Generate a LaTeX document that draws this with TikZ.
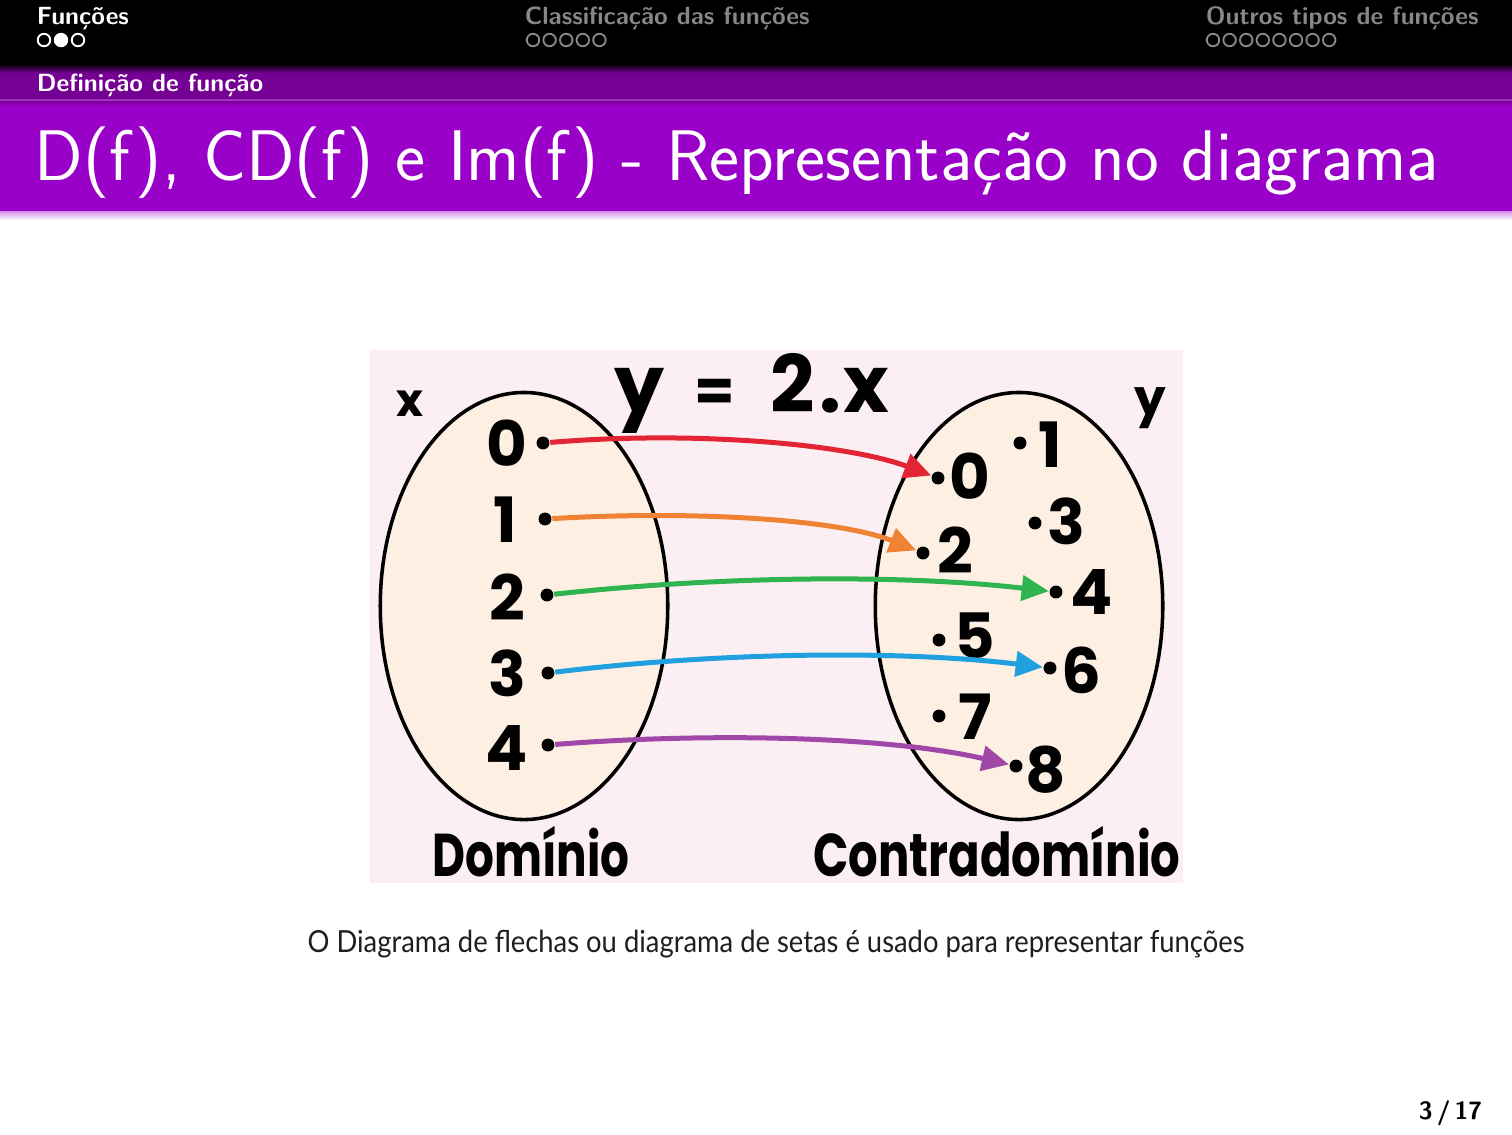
\documentclass[tikz,border=0pt]{standalone}
\usepackage{fontspec}
\newfontfamily\comic{Poppins}
\newfontfamily\capfont{Lato}
\usetikzlibrary{arrows.meta,shapes.geometric}
\definecolor{subpurple}{RGB}{116,0,148}
\definecolor{titlepurple}{RGB}{153,0,200}
\definecolor{navgray}{RGB}{135,135,135}
\definecolor{pinkbg}{RGB}{252,239,243}
\definecolor{beige}{RGB}{253,240,226}
\definecolor{ared}{RGB}{226,36,52}
\definecolor{aorange}{RGB}{240,130,52}
\definecolor{agreen}{RGB}{48,180,80}
\definecolor{ablue}{RGB}{32,160,222}
\definecolor{apurple}{RGB}{160,72,168}
\definecolor{captext}{RGB}{30,30,30}
\tikzset{
  navtext/.style={anchor=base west,inner sep=0pt,font=\sffamily\bfseries\fontsize{5.97}{7}\selectfont},
  navdot/.style={circle,draw=#1,line width=0.45pt,minimum size=3pt,inner sep=0pt},
  setbox/.style={ellipse,draw=black,fill=beige,line width=0.85pt,minimum width=69pt,minimum height=102.5pt,inner sep=0pt},
  elem/.style={circle,fill=black,inner sep=0pt,minimum size=3.1pt},
  num/.style={inner sep=0pt,font=\comic\bfseries\fontsize{15}{16}\selectfont},
  maparrow/.style={draw=#1,line width=1.2pt,-{Triangle[length=6.5pt,width=6pt,fill=#1]}},
  big/.style={inner sep=0pt,font=\comic\bfseries\fontsize{#1}{#1}\selectfont}
}
\begin{document}
\begin{tikzpicture}[x=0.24pt,y=-0.24pt]
\useasboundingbox (0,0) rectangle (1512,1134);
\fill[white] (0,0) rectangle (1512,1134);
% header bands
\fill[black] (0,0) rectangle (1512,64);
\shade[top color=black,bottom color=subpurple] (0,64) rectangle (1512,73);
\fill[subpurple] (0,73) rectangle (1512,100);
\fill[titlepurple] (0,100) rectangle (1512,211);
\shade[top color=subpurple,bottom color=titlepurple] (0,100) rectangle (1512,106);
\draw[color=titlepurple!60!subpurple!80!white,line width=0.3pt] (0,100) -- (1512,100);
\shade[top color=titlepurple!45!white,bottom color=white] (0,211) rectangle (1512,220);
% navigation
\node[navtext,text=white] (sec1) at (36,24) {Funções};
\node[navtext,text=navgray] (sec2) at (524,24) {Classificação das funções};
\node[navtext,text=navgray] (sec3) at (1205,24) {Outros tipos de funções};
\foreach \i/\x in {1/44,3/78}{\node[navdot=white] (m1\i) at (\x,40) {};}
\node[navdot=white,fill=white] (m12) at (61,40) {};
\foreach \i in {0,...,4}{\node[navdot=navgray] (m2\i) at (533+16.6*\i,40) {};}
\foreach \i in {0,...,7}{\node[navdot=navgray] (m3\i) at (1213+16.6*\i,40) {};}
\node[navtext,text=white] (subsec) at (36,91) {Definição de função};
% title
\node[anchor=base west,inner sep=0pt,text=white,font=\sffamily\fontsize{17.2}{20}\selectfont] (title) at (34,180) {D(f), CD(f) e Im(f) - Representação no diagrama};
% diagram background
\fill[pinkbg] (370,350) rectangle (1183,883);
\node[setbox] (dom) at (524,606) {};
\node[setbox] (cod) at (1019,606) {};
\node[big=11] (xlab) at (410,404) {x};
\node[big=12] (ylab) at (1150,408) {y};
\node[big=19,anchor=base] (eqy) at (640,412) {y};
\node[big=14] (eqeq) at (715,395) {=};
\node[big=19,anchor=base west,xscale=0.98] (eqr) at (770,412) {2\kern1pt.\kern0.5pt x};
% domain
\foreach \n/\dx/\dy/\tx/\ty in {0/543/443/507/443, 1/545/519/505/520, 2/547/595/507/597, 3/548/673/507/673, 4/548/745/507/748}{
  \node[elem] (l\n) at (\dx,\dy) {};
  \node[num] (ln\n) at (\tx,\ty) {\n};
}
% codomain
\foreach \n/\dx/\dy/\tx/\ty in {0/938/478/970/476, 1/1020/443/1050/445, 2/923/553/955/550, 3/1035/523/1066/521, 4/1056/592/1092/592, 5/939/640/975/636, 6/1050/668/1081/670, 7/939/716/975/717, 8/1016/766/1046/770}{
  \node[elem] (r\n) at (\dx,\dy) {};
  \node[num] (rn\n) at (\tx,\ty) {\n};
}
% arrows
\draw[maparrow=ared] (l0) .. controls (700,430) and (850,445) .. (r0);
\draw[maparrow=aorange] (l1) .. controls (700,510) and (840,520) .. (r2);
\draw[maparrow=agreen] (l2) .. controls (720,576) and (900,574) .. (r4);
\draw[maparrow=ablue] (l3) .. controls (720,652) and (900,650) .. (r6);
\draw[maparrow=apurple] (l4) .. controls (700,733) and (880,735) .. (r8);
\node[big=14.5,xscale=0.75] (domlab) at (531,852) {Domínio};
\node[big=14.5,xscale=0.77] (codlab) at (997,852) {Contradomínio};
% caption
\node[inner sep=0pt,text=captext,xscale=0.9,font=\capfont\fontsize{7.3}{9}\selectfont] (cap) at (776,944) {O Diagrama de flechas ou diagrama de setas é usado para representar funções};
% page number
\node[anchor=base east,inner sep=0pt,font=\sffamily\bfseries\fontsize{6}{7}\selectfont] (page) at (1483,1119) {3\kern1pt/\kern1pt17};
\end{tikzpicture}
\end{document}
